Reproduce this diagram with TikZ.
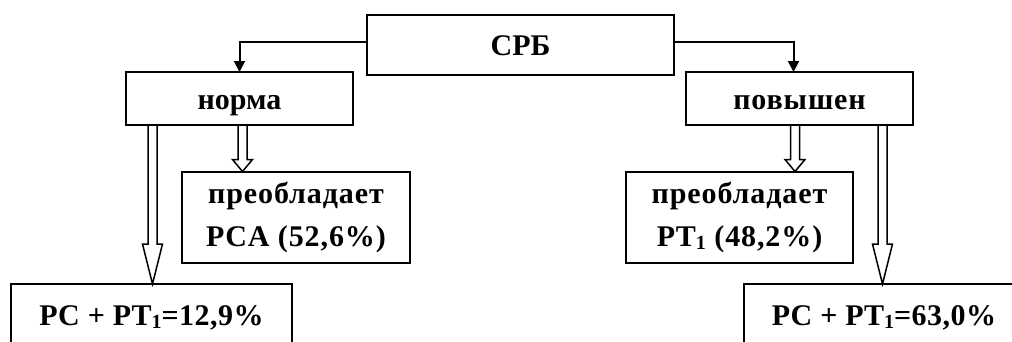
\documentclass[tikz,border=0pt]{standalone}
\usepackage{fontspec}
\setmainfont{Liberation Serif}
\usetikzlibrary{arrows.meta,calc,backgrounds}
\newcommand\subone{\raisebox{-0.11em}{\fontsize{20}{20}\selectfont 1}}
% #1 start point, #2 target node, #3 head length
\newcommand\hollowarrow[3]{%
  \draw[hollow] let \p1=(#1), \p2=(#2.north) in
    (\x1-4.5pt,\y1) -- (\x1-4.5pt,\y2+#3) -- (\x1-10pt,\y2+#3) -- (\x1,\y2)
    -- (\x1+10pt,\y2+#3) -- (\x1+4.5pt,\y2+#3) -- (\x1+4.5pt,\y1);}
\tikzset{
  box/.style={draw, line width=2pt, outer sep=0pt, inner sep=0pt, align=center,
    font=\fontsize{30}{43}\selectfont\bfseries},
  spaced/.style={font=\fontsize{30}{43}\selectfont\bfseries\addfontfeature{LetterSpace=3}},
  slight/.style={font=\fontsize{30}{43}\selectfont\bfseries\addfontfeature{LetterSpace=1.5}},
  one/.style={text height=21pt, text depth=0pt},
  conn/.style={line width=2pt, -{Triangle[length=11pt,width=11pt]}},
  hollow/.style={draw, fill=white, line width=1.5pt, line join=miter},
}
\begin{document}
\begin{tikzpicture}[x=1pt,y=-1pt]
\useasboundingbox (0,0) rectangle (1012,341);
\clip (0,0) rectangle (1012,341);
\node[box, one, minimum width=307pt, minimum height=60pt] (srb) at (520.5,45) {СРБ};
\node[box, one, minimum width=227pt, minimum height=53pt] (norma) at (239.5,98.5) {норма};
\node[box, one, spaced, minimum width=227pt, minimum height=53pt] (povy) at (799.5,98.5) {повышен};
\node[box, spaced, minimum width=228pt, minimum height=91pt] (pca) at (296,217) {преобладает\\PCA (52,6\%)};
\node[box, spaced, minimum width=227pt, minimum height=91pt] (pt) at (739.5,217) {преобладает\\PT\subone{} (48,2\%)};
\node[box, one, slight, minimum width=281pt, minimum height=62pt] (bl) at (151.5,315) {PC + PT\subone=12,9\%};
\node[box, one, slight, minimum width=280pt, minimum height=62pt] (br) at (884,315) {PC + PT\subone=63,0\%};
\draw[conn] ([yshift=3pt]srb.west) -| (norma.north);
\draw[conn] ([yshift=3pt]srb.east) -| ([xshift=-6pt]povy.north);
\begin{scope}[on background layer]
\hollowarrow{[xshift=26.5pt]norma.south west}{bl}{40pt}
\hollowarrow{[xshift=3pt]norma.south}{pca}{12pt}
\hollowarrow{[xshift=-4.5pt]povy.south}{pt}{12pt}
\hollowarrow{[xshift=83pt]povy.south}{br}{40pt}
\end{scope}
\end{tikzpicture}
\end{document}
